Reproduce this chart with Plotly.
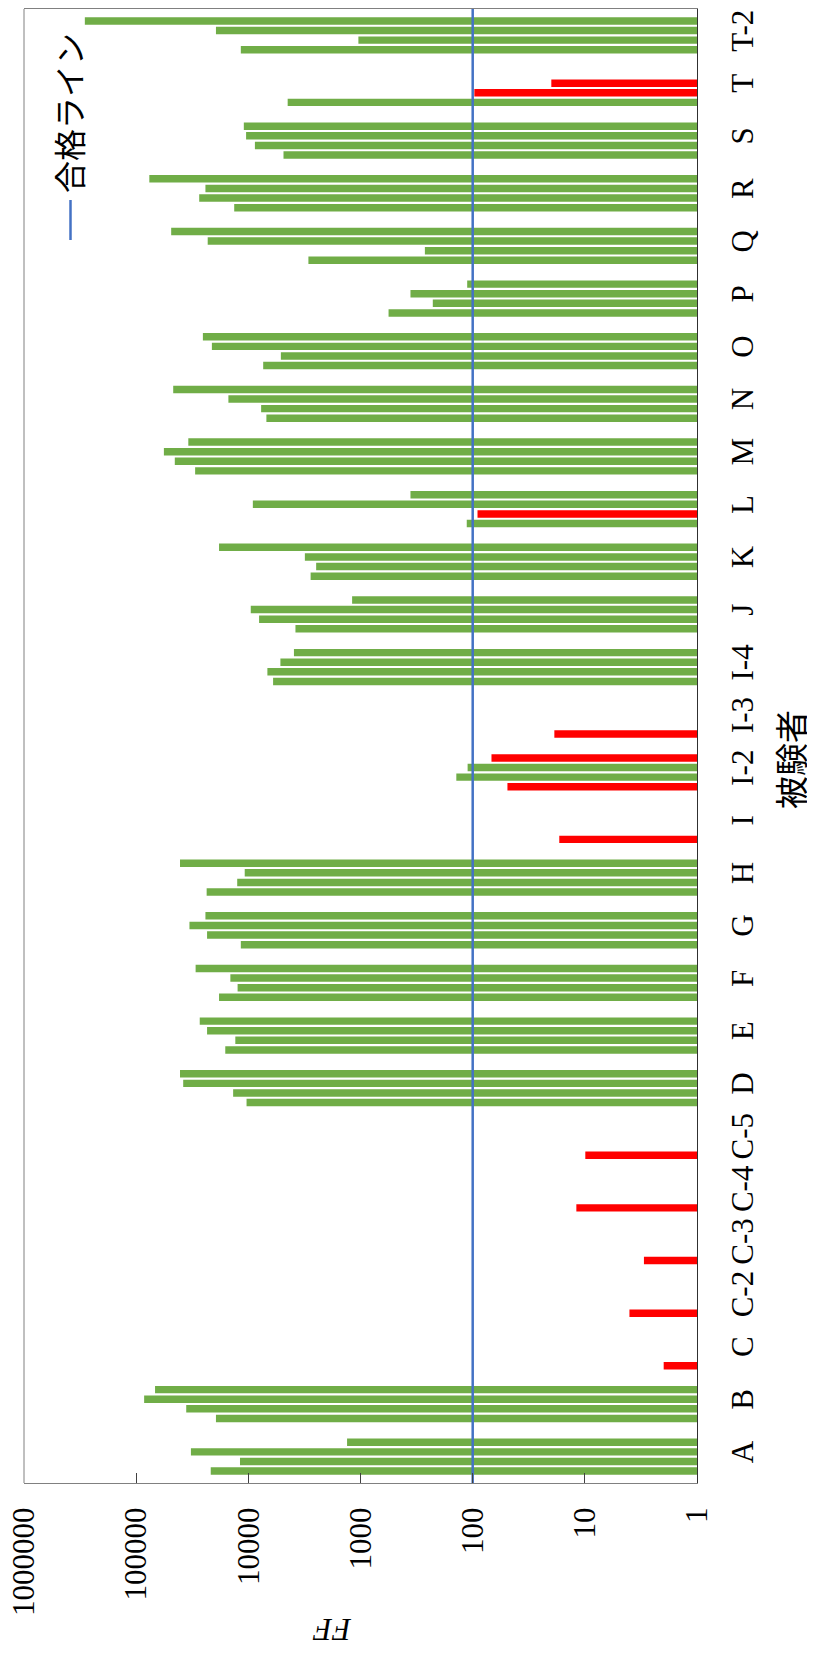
import plotly.graph_objects as go

# ---------------- data ----------------
categories = ["A", "B", "C", "C-2", "C-3", "C-4", "C-5", "D", "E", "F", "G", "H",
              "I", "I-2", "I-3", "I-4", "J", "K", "L", "M", "N", "O", "P", "Q",
              "R", "S", "T", "T-2"]

series1 = [21700, 19500, 1.98, 4.0, 2.97, 11.9, 9.9, 10400, 16100, 18300, 11700, 23600,
           16.9, 49, 18.7, 6030, 3810, 2790, 113, 29900, 6920, 7390, 563, 2920,
           13400, 4870, 4470, 11700]
series2 = [11900, 35900, None, None, None, None, None, 13700, 13100, 12500, 23400, 12600,
           None, 140, None, 6780, 8040, 2490, 90.6, 45400, 7710, 5140, 227, 267,
           27500, 8760, 96.7, 1046]
series3 = [32600, 85200, None, None, None, None, None, 38200, 23400, 14500, 33600, 10800,
           None, 111, None, 5190, 9540, 3140, 9140, 56800, 15100, 21200, 359, 23100,
           24200, 10500, 19.9, 19500]
series4 = [1320, 68100, None, None, None, None, None, 40800, 27200, 29600, 24200, 40800,
           None, 68, None, 3930, 1190, 18300, 359, 34400, 46900, 25500, 112, 48900,
           76600, 11000, None, 288000]

PASS_LINE = 100
value_ticks = [1, 10, 100, 1000, 10000, 100000, 1000000]
value_tick_text = ["1", "10", "100", "1000", "10000", "100000", "1000000"]

legend_text = "合格ライン"
cat_title = "被験者"
val_title = "<i>FF</i>"

# ---------------- style ----------------
OFF = 8                      # default page body margin
W, H = 815 - OFF, 1657 - OFF
# plot area in page pixels
PL, PR, PT, PB = 24, 697, 9, 1483
GREEN = "#70AD47"
RED = "#FF0000"
BLUE = "#4472C4"
SERIF = "Liberation Serif, Times New Roman, serif"
CJK = "Noto Sans CJK JP"


def px_x(px):
    return (px - PL) / (PR - PL)


def px_y(py):
    return (PB - py) / (PB - PT)


fig = go.Figure()

for s in [series1, series2, series3, series4]:
    colors = [RED if (v is not None and v < PASS_LINE) else GREEN for v in s]
    fig.add_trace(go.Bar(
        y=categories, x=s, orientation="h",
        marker=dict(color=colors, line=dict(width=0)),
        showlegend=False, hoverinfo="x+y",
    ))

# pass line (vertical in this rotated view)
fig.add_trace(go.Scatter(
    x=[PASS_LINE, PASS_LINE], y=[0, 1], yaxis="y2", mode="lines",
    line=dict(color=BLUE, width=2.5), showlegend=False, hoverinfo="skip",
))

fig.update_layout(
    width=W, height=H,
    margin=dict(l=PL - OFF, r=(W + OFF) - PR, t=PT - OFF, b=(H + OFF) - PB, autoexpand=False),
    paper_bgcolor="white", plot_bgcolor="white",
    barmode="group", bargap=0.27, bargroupgap=0.22,
    xaxis=dict(
        type="log", range=[6.002, -0.0005],
        tickvals=value_ticks, ticktext=value_tick_text,
        tickangle=-90, tickfont=dict(family=SERIF, size=31, color="black"),
        ticks="inside", ticklen=10, tickcolor="#404040", tickwidth=1,
        showgrid=False, zeroline=False,
        showline=True, linecolor="#808080", linewidth=1, mirror=True,
        ticklabelstandoff=11, ticklabeloverflow="allow",
    ),
    yaxis=dict(
        type="category", categoryorder="array", categoryarray=categories,
        side="right", tickangle=-90,
        tickfont=dict(family=SERIF, size=31, color="black"),
        ticks="", showgrid=False, zeroline=False,
        showline=True, linecolor="#303030", linewidth=1,
        ticklabelstandoff=18, ticklabeloverflow="allow",
    ),
    yaxis2=dict(overlaying="y", range=[0, 1], visible=False, fixedrange=True),
)

# left border of plot frame
fig.add_shape(type="line", xref="paper", yref="paper", x0=0, x1=0, y0=0, y1=1,
              line=dict(color="#808080", width=1))

# legend (rotated)
fig.add_annotation(xref="paper", yref="paper", x=px_x(68), y=px_y(113),
                   text=legend_text, textangle=-90, showarrow=False,
                   font=dict(family=CJK, size=32, color="black"),
                   xanchor="center", yanchor="middle")
fig.add_shape(type="line", xref="paper", yref="paper",
              x0=px_x(70.5), x1=px_x(70.5), y0=px_y(240), y1=px_y(200),
              line=dict(color=BLUE, width=2.5))

# axis titles (rotated)
fig.add_annotation(xref="paper", yref="paper", x=px_x(790), y=px_y(760),
                   text=cat_title, textangle=-90, showarrow=False,
                   font=dict(family=CJK, size=33, color="black"),
                   xanchor="center", yanchor="middle")
fig.add_annotation(xref="paper", yref="paper", x=px_x(332), y=px_y(1630),
                   text=val_title, textangle=180, showarrow=False,
                   font=dict(family=SERIF, size=31, color="black"),
                   xanchor="center", yanchor="middle")

fig.write_html("out.html")
